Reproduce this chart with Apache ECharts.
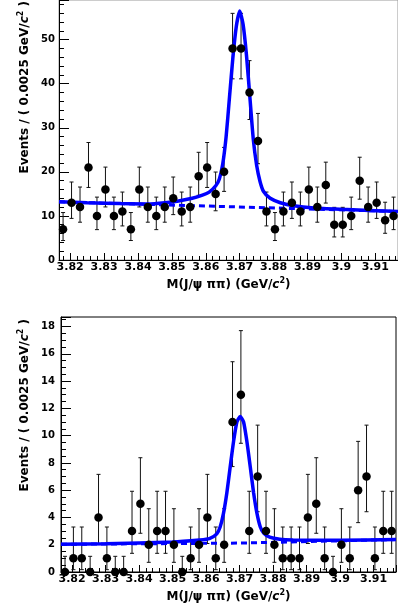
<!DOCTYPE html>
<html>
<head>
<meta charset="utf-8">
<script src="https://cdn.jsdelivr.net/npm/echarts@6.0.0/dist/echarts.min.js"></script>
<style>
  html, body { margin: 0; padding: 0; background: #fff; }
  #chart { width: 398px; height: 609px; }
</style>
</head>
<body>
<div id="chart"></div>
<script>
// bin centres of the 0.0025 GeV/c^2 histogram (shared by both panels)
const binCenters = [
  3.8179, 3.8204, 3.8229, 3.8254, 3.8279, 3.8304, 3.8329, 3.8354, 3.8379, 3.8404,
  3.8429, 3.8454, 3.8479, 3.8504, 3.8529, 3.8554, 3.8579, 3.8604, 3.8629, 3.8654,
  3.8679, 3.8704, 3.8729, 3.8754, 3.8779, 3.8804, 3.8829, 3.8854, 3.8879, 3.8904,
  3.8929, 3.8954, 3.8979, 3.9004, 3.9029, 3.9054, 3.9079, 3.9104, 3.9129, 3.9154
];
const xMin = 3.8167;
const xMax = 3.9167;
const xTicks = [3.82, 3.83, 3.84, 3.85, 3.86, 3.87, 3.88, 3.89, 3.9, 3.91];

// upper panel
const topYTicks = [0, 10, 20, 30, 40, 50];
const topCounts = [7, 13, 12, 21, 10, 16, 10, 11, 7, 16, 12, 10, 12, 14, 11, 12, 19, 21, 15, 20,
  48, 48, 38, 27, 11, 7, 11, 13, 11, 16, 12, 17, 8, 8, 10, 18, 12, 13, 9, 10];
const topLow = [4.42, 9.44, 8.58, 16.46, 6.89, 12.04, 6.89, 7.73, 4.42, 12.04, 8.58, 6.89, 8.58, 10.30,
  7.73, 8.58, 14.68, 16.46, 11.17, 15.57, 41.11, 41.11, 31.88, 21.85, 7.73, 4.42, 7.73, 9.44, 7.73,
  12.04, 8.58, 12.92, 5.23, 5.23, 6.89, 13.80, 8.58, 9.44, 6.06, 6.89];
const topHigh = [10.77, 17.70, 16.56, 26.66, 14.27, 21.08, 14.27, 15.42, 10.77, 21.08, 16.56, 14.27,
  16.56, 18.83, 15.42, 16.56, 24.44, 26.66, 19.96, 25.55, 55.97, 55.97, 45.24, 33.26, 15.42, 10.77,
  15.42, 17.70, 15.42, 21.08, 16.56, 22.20, 11.95, 11.95, 14.27, 23.32, 16.56, 17.70, 13.11, 14.27];
const topFitX = [3.8167, 3.825, 3.835, 3.843, 3.848, 3.852, 3.856, 3.859, 3.861, 3.863, 3.864, 3.865,
  3.866, 3.867, 3.868, 3.869, 3.870, 3.871, 3.872, 3.873, 3.874, 3.875, 3.876, 3.877, 3.879, 3.882,
  3.886, 3.892, 3.9, 3.91, 3.9167];
const topFitY = [13.2, 13.0, 12.8, 12.7, 13.0, 13.4, 14.0, 14.7, 15.4, 16.9, 18.4, 21.8,
  28.0, 37.0, 46.0, 53.0, 56.5, 53.5, 46.5, 37.0, 27.5, 21.5, 17.8, 15.6, 14.0, 13.0,
  12.3, 11.8, 11.5, 11.2, 11.0];
const topBkgX = [3.8167, 3.9167];
const topBkgY = [13.2, 11.0];

// lower panel
const bottomYTicks = [0, 2, 4, 6, 8, 10, 12, 14, 16, 18];
const bottomCounts = [0, 1, 1, 0, 4, 1, 0, 0, 3, 5, 2, 3, 3, 2, 0, 1, 2, 4, 1, 2,
  11, 13, 3, 7, 3, 2, 1, 1, 1, 4, 5, 1, 0, 2, 1, 6, 7, 1, 3, 3];
const bottomLow = [0, 0.17, 0.17, 0, 2.09, 0.17, 0, 0, 1.37, 2.84, 0.71, 1.37, 1.37, 0.71, 0, 0.17,
  0.71, 2.09, 0.17, 0.71, 7.73, 9.44, 1.37, 4.42, 1.37, 0.71, 0.17, 0.17, 0.17, 2.09, 2.84, 0.17,
  0, 0.71, 0.17, 3.62, 4.42, 0.17, 1.37, 1.37];
const bottomHigh = [1.15, 3.30, 3.30, 1.15, 7.16, 3.30, 1.15, 1.15, 5.92, 8.38, 4.64, 5.92, 5.92,
  4.64, 1.15, 3.30, 4.64, 7.16, 3.30, 4.64, 15.42, 17.70, 5.92, 10.77, 5.92, 4.64, 3.30, 3.30, 3.30,
  7.16, 8.38, 3.30, 1.15, 4.64, 3.30, 9.58, 10.77, 3.30, 5.92, 5.92];
const bottomFitX = [3.8167, 3.83, 3.85, 3.858, 3.861, 3.8632, 3.8642, 3.8652, 3.8662, 3.8672, 3.8682,
  3.8692, 3.8702, 3.8712, 3.8722, 3.8732, 3.8742, 3.8752, 3.8762, 3.8772, 3.879, 3.882, 3.886,
  3.9, 3.9167];
const bottomFitY = [2.03, 2.08, 2.2, 2.35, 2.45, 2.8, 3.3, 4.3, 5.8, 7.7, 9.55,
  11.0, 11.4, 11.0, 9.55, 7.7, 5.8, 4.3, 3.3, 2.85, 2.55, 2.4, 2.35,
  2.33, 2.38];
const bottomBkgX = [3.8167, 3.87, 3.9167];
const bottomBkgY = [2.03, 2.12, 2.38];

const FONT = "DejaVu Sans";
const BLUE = "#0000ff";

function pairs(xs, ys) {
  return xs.map((x, i) => [x, ys[i]]);
}

function renderErrorBar(params, api) {
  const x = api.value(0);
  const lo = api.coord([x, api.value(1)]);
  const hi = api.coord([x, api.value(2)]);
  const cap = 2;
  const style = { stroke: "#111", lineWidth: 1 };
  return {
    type: "group",
    children: [
      { type: "line", shape: { x1: lo[0], y1: lo[1], x2: hi[0], y2: hi[1] }, style },
      { type: "line", shape: { x1: hi[0] - cap, y1: hi[1], x2: hi[0] + cap, y2: hi[1] }, style },
      { type: "line", shape: { x1: lo[0] - cap, y1: lo[1], x2: lo[0] + cap, y2: lo[1] }, style }
    ]
  };
}

const richTitle = {
  i: { fontFamily: FONT, fontWeight: "bold", fontStyle: "italic", fontSize: 12, color: "#000" },
  sup: { fontFamily: FONT, fontWeight: "bold", fontSize: 8, lineHeight: 6, verticalAlign: "top", color: "#000" }
};

function buildXAxis(gridIndex) {
  return {
    type: "value",
    gridIndex,
    min: xMin,
    max: xMax,
    splitNumber: 10,
    axisLine: { show: true, onZero: false, lineStyle: { color: "#000", width: 1 } },
    axisTick: { show: true, inside: true, length: 7, lineStyle: { color: "#000" } },
    minorTick: { show: true, splitNumber: 5, length: 4, lineStyle: { color: "#000" } },
    axisLabel: {
      customValues: xTicks,
      margin: 2,
      fontFamily: FONT,
      fontWeight: "bold",
      fontSize: 11,
      color: "#000",
      formatter: (v) => String(Number(v.toFixed(2)))
    },
    splitLine: { show: false },
    name: "M(J/ψ ππ) (GeV/{i|c}{sup|2})",
    nameLocation: "middle",
    nameGap: 17,
    nameTextStyle: {
      fontFamily: FONT,
      fontWeight: "bold",
      fontSize: 12,
      lineHeight: 16,
      color: "#000",
      rich: richTitle
    }
  };
}

function buildYAxis(gridIndex, max, interval, ticks, minorSplit, margin) {
  return {
    type: "value",
    gridIndex,
    min: 0,
    max,
    interval,
    axisLine: { show: true, onZero: false, lineStyle: { color: "#000", width: 1 } },
    axisTick: { show: true, inside: true, length: 10, lineStyle: { color: "#000" } },
    minorTick: { show: true, splitNumber: minorSplit, length: 5, lineStyle: { color: "#000" } },
    axisLabel: {
      customValues: ticks,
      margin,
      fontFamily: FONT,
      fontWeight: "bold",
      fontSize: 10,
      color: "#000"
    },
    splitLine: { show: false }
  };
}

function yTitle(y) {
  return {
    type: "text",
    x: 25,
    y,
    rotation: Math.PI / 2,
    silent: true,
    style: {
      text: "Events / ( 0.0025 GeV/{i|c}{sup|2} )",
      fontFamily: FONT,
      fontWeight: "bold",
      fontSize: 12,
      lineHeight: 16,
      fill: "#000",
      align: "right",
      textAlign: "right",
      verticalAlign: "middle",
      textVerticalAlign: "middle",
      rich: {
        i: { fontFamily: FONT, fontWeight: "bold", fontStyle: "italic", fontSize: 12, fill: "#000" },
        sup: { fontFamily: FONT, fontWeight: "bold", fontSize: 8, lineHeight: 6, verticalAlign: "top", fill: "#000" }
      }
    }
  };
}

function panelSeries(idx, counts, lows, highs, fitX, fitY, bkgX, bkgY) {
  return [
    {
      type: "custom",
      xAxisIndex: idx,
      yAxisIndex: idx,
      z: 2,
      silent: true,
      data: binCenters.map((x, i) => [x, lows[i], highs[i]]),
      encode: { x: 0, y: [1, 2] },
      renderItem: renderErrorBar
    },
    {
      type: "line",
      xAxisIndex: idx,
      yAxisIndex: idx,
      z: 3,
      showSymbol: false,
      silent: true,
      data: pairs(bkgX, bkgY),
      lineStyle: { color: BLUE, width: 3, type: [6, 4] }
    },
    {
      type: "line",
      xAxisIndex: idx,
      yAxisIndex: idx,
      z: 4,
      showSymbol: false,
      silent: true,
      smooth: 0.2,
      data: pairs(fitX, fitY),
      lineStyle: { color: BLUE, width: 3.5 }
    },
    {
      type: "scatter",
      xAxisIndex: idx,
      yAxisIndex: idx,
      z: 5,
      silent: true,
      symbolSize: 8.5,
      itemStyle: { color: "#000", opacity: 1 },
      data: pairs(binCenters, counts)
    }
  ];
}

const chart = echarts.init(document.getElementById("chart"), null, { renderer: "canvas" });

chart.setOption({
  backgroundColor: "#fff",
  animation: false,
  grid: [
    { left: 59, top: 0, width: 341, height: 260, show: true, borderColor: "#999", borderWidth: 1 },
    { left: 61, top: 317, width: 335, height: 255, show: true, borderColor: "#000", borderWidth: 1 }
  ],
  xAxis: [buildXAxis(0), buildXAxis(1)],
  yAxis: [
    buildYAxis(0, 59, 10, topYTicks, 5, 4),
    buildYAxis(1, 18.7, 2, bottomYTicks, 4, 6)
  ],
  graphic: [yTitle(1), yTitle(319)],
  series: [
    ...panelSeries(0, topCounts, topLow, topHigh, topFitX, topFitY, topBkgX, topBkgY),
    ...panelSeries(1, bottomCounts, bottomLow, bottomHigh, bottomFitX, bottomFitY, bottomBkgX, bottomBkgY)
  ]
});
</script>
</body>
</html>
